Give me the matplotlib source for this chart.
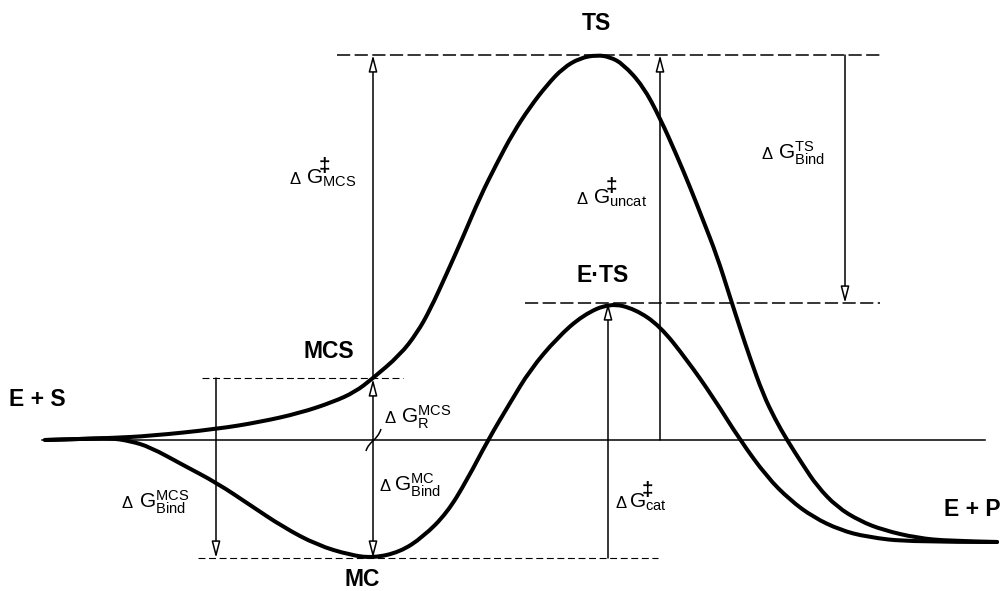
import matplotlib
matplotlib.use("Agg")
import matplotlib.pyplot as plt
from matplotlib.patches import FancyArrowPatch, PathPatch
from matplotlib.path import Path

plt.rcParams["font.family"] = ["Liberation Sans", "DejaVu Sans"]
plt.rcParams["mathtext.fontset"] = "custom"
plt.rcParams["mathtext.rm"] = "Liberation Sans"
plt.rcParams["mathtext.it"] = "Liberation Sans:italic"
plt.rcParams["mathtext.bf"] = "Liberation Sans:bold"
plt.rcParams["lines.scale_dashes"] = False

# free-energy profiles (x, G) in picture units, G grows downward
uncat_x = [45, 80, 110, 150, 217, 260, 300, 333, 355, 372, 400, 417, 430, 447, 463, 480,
           497, 513, 530, 547, 563, 580, 597, 610, 623, 643, 660, 677, 690, 703, 717, 730,
           740, 750, 763, 775, 787, 803, 817, 837, 860, 883, 917, 950, 997]
uncat_g = [440, 439, 438, 436, 429, 422, 413, 402, 392, 379, 355, 333, 310, 273, 237, 197,
           163, 133, 107, 85, 68, 58, 55, 57, 64, 86, 118, 156, 187, 220, 256, 297,
           328, 358, 394, 419, 440, 465, 486, 507, 521, 530, 538, 541, 542]

cat_x = [45, 80, 110, 130, 150, 183, 217, 250, 283, 317, 350, 373, 400, 423, 447, 467, 488,
         510, 530, 557, 583, 610, 635, 660, 687, 713, 740, 767, 790, 813, 840, 867, 910, 997]
cat_g = [440, 439, 438, 441, 447, 465, 483, 505, 527, 545, 555, 558, 552, 537, 513, 480, 440,
         403, 370, 338, 315, 303, 309, 326, 360, 397, 440, 477, 500, 517, 530, 537, 542, 542]

# energy levels
lvl_base = 440
lvl_ts = 55
lvl_ets = 303
lvl_mcs = 378
lvl_mc = 558

# state labels: text, x, y
states = [("TS", 596, 23), ("E·TS", 603, 275), ("MCS", 329, 352),
          ("MC", 362, 580), ("E + S", 9, 400), ("E + P", 944, 510)]

# arrows: x, from, to
arrows = [(373, lvl_mcs, lvl_ts), (373, lvl_base, lvl_mcs + 1), (373, lvl_base, lvl_mc),
          (216, lvl_mcs, lvl_mc), (660, lvl_base, lvl_ts), (845, lvl_ts, lvl_ets),
          (608, lvl_mc, lvl_ets)]

# delta-G labels: x of delta, x of G, baseline y, superscript, subscript
dg_labels = [(290, 306, 184, "\u2021", "MCS"),
             (577, 593, 204, "\u2021", "uncat"),
             (762, 778, 159, "TS", "Bind"),
             (385, 401, 423, "MCS", "R"),
             (380, 394, 491, "MC", "Bind"),
             (122, 139, 508, "MCS", "Bind"),
             (616, 629, 508, "\u2021", "cat")]

fig = plt.figure(figsize=(10.02, 5.91), dpi=100)
ax = fig.add_axes([0, 0, 1, 1])
ax.set_xlim(0, 1002)
ax.set_ylim(591, 0)
ax.axis("off")


def smooth_path(xs, ys):
    # quadratic bezier chain: the read points act as control points
    pts = list(zip(xs, ys))
    verts = [pts[0]]
    codes = [Path.MOVETO]
    for i in range(1, len(pts) - 1):
        nxt = pts[i + 1] if i + 1 == len(pts) - 1 else ((pts[i][0] + pts[i + 1][0]) / 2,
                                                        (pts[i][1] + pts[i + 1][1]) / 2)
        verts += [pts[i], nxt]
        codes += [Path.CURVE3, Path.CURVE3]
    return Path(verts, codes)


# reference line and levels
ax.plot([42, 985], [lvl_base, lvl_base], color="black", lw=1.1)
long_dash = (0, (9.5, 3.2))
short_dash = (0, (5, 2.6))
ax.plot([337, 880], [lvl_ts, lvl_ts], color="black", lw=1.1, ls=long_dash)
ax.plot([525, 880], [lvl_ets, lvl_ets], color="black", lw=1.1, ls=long_dash)
ax.plot([202, 403], [lvl_mcs, lvl_mcs], color="black", lw=0.8, ls=short_dash)
ax.plot([198, 658], [lvl_mc, lvl_mc], color="black", lw=0.8, ls=short_dash)

# profiles
for xs, ys in [(uncat_x, uncat_g), (cat_x, cat_g)]:
    ax.add_patch(PathPatch(smooth_path(xs, ys), fc="none", ec="black", lw=2.9,
                           capstyle="round", joinstyle="round", zorder=2))

for x, y0, y1 in arrows:
    arr = FancyArrowPatch((x, y0), (x, y1), arrowstyle="-|>,head_length=10,head_width=2.6",
                          mutation_scale=1, shrinkA=0, shrinkB=0,
                          fc="white", ec="black", lw=1.1, zorder=3)
    ax.add_patch(arr)

# axis break mark on the MCS arrow
brk = Path([(366, 451), (369, 441), (377, 441), (381, 429)],
           [Path.MOVETO, Path.CURVE4, Path.CURVE4, Path.CURVE4])
ax.add_patch(PathPatch(brk, fc="none", ec="black", lw=1.1, zorder=4))

for name, x, y in states:
    ha = "left" if name.startswith("E +") else "center"
    ax.text(x, y, name, ha=ha, va="center", fontsize=16.5, fontweight="bold")

for xd, xg, yb, sup, sub in dg_labels:
    ax.text(xd, yb, "\u0394", ha="left", va="baseline", fontsize=12)
    if sup == "\u2021":
        ax.text(xg, yb, r"$\mathrm{G}_{\mathrm{%s}}$" % sub, ha="left", va="baseline",
                fontsize=15)
        ax.text(xg + 13, yb - 12, sup, ha="left", va="baseline", fontsize=15,
                fontweight="bold")
    else:
        ax.text(xg, yb, r"$\mathrm{G}^{\mathrm{%s}}_{\mathrm{%s}}$" % (sup, sub),
                ha="left", va="baseline", fontsize=15)

fig.savefig("out.png", dpi=100)
